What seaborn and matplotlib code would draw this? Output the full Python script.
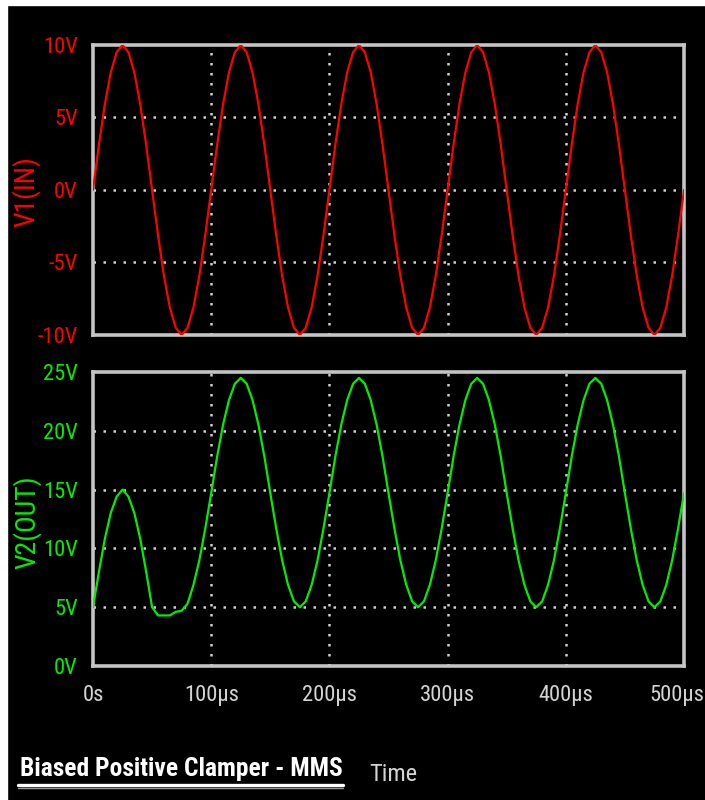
import os
import matplotlib
matplotlib.use("Agg")
import matplotlib.pyplot as plt
import matplotlib.transforms as mtrans
import seaborn as sns
import pandas as pd
from matplotlib.font_manager import fontManager, FontProperties
from matplotlib.lines import Line2D
from matplotlib.patches import Rectangle

time_us = list(range(0, 505, 5))

v1_in = [
    0.0, 3.1, 5.9, 8.1, 9.5, 10.0, 9.5, 8.1, 5.9, 3.1,
    0.0, -3.1, -5.9, -8.1, -9.5, -10.0, -9.5, -8.1, -5.9, -3.1,
    0.0, 3.1, 5.9, 8.1, 9.5, 10.0, 9.5, 8.1, 5.9, 3.1,
    0.0, -3.1, -5.9, -8.1, -9.5, -10.0, -9.5, -8.1, -5.9, -3.1,
    0.0, 3.1, 5.9, 8.1, 9.5, 10.0, 9.5, 8.1, 5.9, 3.1,
    0.0, -3.1, -5.9, -8.1, -9.5, -10.0, -9.5, -8.1, -5.9, -3.1,
    0.0, 3.1, 5.9, 8.1, 9.5, 10.0, 9.5, 8.1, 5.9, 3.1,
    0.0, -3.1, -5.9, -8.1, -9.5, -10.0, -9.5, -8.1, -5.9, -3.1,
    0.0, 3.1, 5.9, 8.1, 9.5, 10.0, 9.5, 8.1, 5.9, 3.1,
    0.0, -3.1, -5.9, -8.1, -9.5, -10.0, -9.5, -8.1, -5.9, -3.1,
    0.0,
]

v2_out = [
    5.0, 8.0, 10.8, 13.0, 14.4, 15.0, 14.4, 13.0, 10.8, 8.0,
    5.0, 4.3, 4.3, 4.3, 4.6, 4.7, 5.3, 6.9, 9.0, 11.7,
    14.7, 17.8, 20.5, 22.6, 24.0, 24.5, 24.0, 22.6, 20.5, 17.8,
    14.7, 11.7, 9.0, 6.9, 5.5, 5.0, 5.5, 6.9, 9.0, 11.7,
    14.7, 17.8, 20.5, 22.6, 24.0, 24.5, 24.0, 22.6, 20.5, 17.8,
    14.7, 11.7, 9.0, 6.9, 5.5, 5.0, 5.5, 6.9, 9.0, 11.7,
    14.7, 17.8, 20.5, 22.6, 24.0, 24.5, 24.0, 22.6, 20.5, 17.8,
    14.7, 11.7, 9.0, 6.9, 5.5, 5.0, 5.5, 6.9, 9.0, 11.7,
    14.7, 17.8, 20.5, 22.6, 24.0, 24.5, 24.0, 22.6, 20.5, 17.8,
    14.7, 11.7, 9.0, 6.9, 5.5, 5.0, 5.5, 6.9, 9.0, 11.7,
    14.7,
]

x_ticks = [0, 100, 200, 300, 400, 500]
x_labels = ["0s", "100µs", "200µs", "300µs", "400µs", "500µs"]
y1_ticks = [-10, -5, 0, 5, 10]
y1_labels = ["-10V", "-5V", "0V", "5V", "10V"]
y2_ticks = [0, 5, 10, 15, 20, 25]
y2_labels = ["0V", "5V", "10V", "15V", "20V", "25V"]
title = "Biased Positive Clamper - MMS"

sns.set_style("dark")
plt.rcParams["font.family"] = ["Liberation Sans", "DejaVu Sans"]

# ---- pick the narrowest installed font family available ----
stems = {}
for f in fontManager.ttflist:
    st = os.path.splitext(os.path.basename(f.fname))[0].lower()
    st = st.replace("-", "").replace("_", "").replace(" ", "")
    stems[st] = f.fname

reg_order = ["liberationsansnarrowregular", "liberationsansnarrow",
             "notosansextracondensed", "notosanscondensed",
             "robotocondensedregular", "opensanscondensedregular",
             "dejavusanscondensed"]
bold_order = ["liberationsansnarrowbold", "notosansextracondensedbold",
              "notosanscondensedbold", "robotocondensedbold",
              "opensanscondensedbold", "dejavusanscondensedbold"]


def pick(order):
    for o in order:
        if o in stems:
            return stems[o]
    return None


reg_file = pick(reg_order)
bold_file = pick(bold_order)
if reg_file is None:
    for st, fn in stems.items():
        if ("condensed" in st or "narrow" in st) and not any(
                w in st for w in ["bold", "light", "thin", "medium", "black", "italic", "semi", "extrab"]):
            reg_file = fn
            break
fp_reg = FontProperties(fname=reg_file) if reg_file else FontProperties(family="Liberation Sans")
fp_bold = FontProperties(fname=bold_file) if bold_file else fp_reg.copy()
if bold_file is None:
    fp_bold.set_weight("bold")

RED = "#ff0000"
GREEN = "#00ee00"
FRAME = "#c4c4c4"
GRID = "#cfcfcf"
TICKC = "#d4d4d4"

df = pd.DataFrame({"t": time_us, "v1": v1_in, "v2": v2_out})

fig = plt.figure(figsize=(7.05, 8.0), dpi=100, facecolor="black")
renderer = fig.canvas.get_renderer()


def fitted(fp, text, target_w, max_pt, boost=1.0):
    p = fp.copy()
    p.set_size(20)
    t = fig.text(0, 0, text, fontproperties=p)
    w = t.get_window_extent(renderer).width
    t.remove()
    p.set_size(min(max_pt, boost * 20 * target_w / w))
    return p


tick_fp = fitted(fp_reg, "100µs", 49, 30, 1.12)
ytick_fp = fitted(fp_reg, "10V", 33, 30, 1.12)
if ytick_fp.get_size() < tick_fp.get_size():
    tick_fp = ytick_fp
lab1_fp = fitted(fp_reg, "V1(IN)", 111, 20)
lab2_fp = fitted(fp_reg, "V2(OUT)", 155, 20)
lab_size = min(lab1_fp.get_size(), lab2_fp.get_size())
lab1_fp.set_size(lab_size)
lab2_fp.set_size(lab_size)
title_fp = fitted(fp_bold, title, 322, 30, 1.0)
time_fp = fitted(fp_reg, "Time", 37, 30, 1.3)

fig.patches.append(Rectangle((0, 0), 7 / 705, 1, transform=fig.transFigure, color="white", zorder=0))
fig.patches.append(Rectangle((0, 1 - 5 / 800), 1, 5 / 800, transform=fig.transFigure, color="white", zorder=0))

ax1 = fig.add_axes([93 / 705, 1 - 335 / 800, 591 / 705, 290 / 800])
ax2 = fig.add_axes([93 / 705, 1 - 666 / 800, 591 / 705, 294 / 800])


def style(ax, yt, yl, ylim, color, ylabel, lab_fp, show_x):
    ax.set_facecolor("black")
    ax.set_xlim(0, 500)
    ax.set_ylim(*ylim)
    ax.set_xticks(x_ticks)
    ax.set_yticks(yt)
    ax.set_yticklabels(yl, color=color, fontproperties=tick_fp)
    if show_x:
        ax.set_xticklabels(x_labels, color=TICKC, fontproperties=tick_fp)
    else:
        ax.set_xticklabels([])
    ax.tick_params(axis="y", length=0, pad=11)
    ax.tick_params(axis="x", length=0, pad=14)
    ax.grid(False)
    for v in x_ticks[1:-1]:
        ax.axvline(v, color=GRID, lw=1.8, ls=(0, (1, 3)), zorder=1)
    for v in yt[1:-1]:
        ax.axhline(v, color=GRID, lw=1.8, ls=(0, (1, 3)), zorder=1)
    for s in ax.spines.values():
        s.set_visible(True)
        s.set_color(FRAME)
        s.set_linewidth(2.6)
    ax.set_xlabel("")
    ax.set_ylabel(ylabel, color=color, fontproperties=lab_fp)


sns.lineplot(data=df, x="t", y="v1", ax=ax1, color=RED, lw=1.6, zorder=3)
sns.lineplot(data=df, x="t", y="v2", ax=ax2, color=GREEN, lw=1.6, zorder=3)
style(ax1, y1_ticks, y1_labels, (-10, 10), RED, "V1(IN)", lab1_fp, False)
style(ax2, y2_ticks, y2_labels, (0, 25), GREEN, "V2(OUT)", lab2_fp, True)
ax1.yaxis.set_label_coords((26 - 93) / 591, (335 - 192) / 290)
ax2.yaxis.set_label_coords((27 - 93) / 591, (666 - 522) / 294)
ax1.yaxis.label.set_verticalalignment("center")
ax2.yaxis.label.set_verticalalignment("center")

# keep the last time label inside the canvas
last = ax2.get_xticklabels()[-1]
last.set_transform(last.get_transform() + mtrans.ScaledTranslation(-7 / 100, 0, fig.dpi_scale_trans))

fig.text(20 / 705, 1 - 776 / 800, title, color="white", fontproperties=title_fp,
         ha="left", va="baseline")
fig.add_artist(Line2D([18 / 705, 343 / 705], [1 - 785 / 800, 1 - 785 / 800], color="white",
                      lw=2.4, transform=fig.transFigure))
fig.add_artist(Line2D([18 / 705, 343 / 705], [1 - 787.5 / 800, 1 - 787.5 / 800], color="#9a9a9a",
                      lw=1.0, transform=fig.transFigure))
fig.text(369 / 705, 1 - 781 / 800, "Time", color=TICKC, fontproperties=time_fp,
         ha="left", va="baseline")

fig.savefig("out.png", dpi=100, facecolor="black")
